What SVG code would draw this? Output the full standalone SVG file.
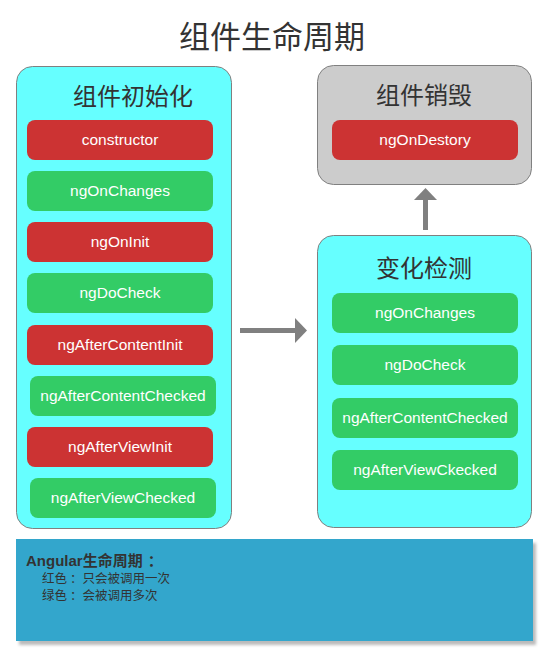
<svg xmlns="http://www.w3.org/2000/svg" width="555" height="666" viewBox="0 0 555 666">
<defs>
<style>
.cont{stroke:#808080;stroke-width:1}
.cyan{fill:#66FFFF}
.gray{fill:#CCCCCC}
.red{fill:#CC3333}
.green{fill:#33CC66}
.bt{font-family:"Liberation Sans",Arial,sans-serif;font-size:15.5px;fill:#FFFFFF;text-anchor:middle}
.ttl{font-family:"Noto Sans CJK SC","Liberation Sans",sans-serif;fill:#333333;text-anchor:middle}
.leg{font-family:"Liberation Sans","Noto Sans CJK SC",sans-serif;fill:#333333}
.conn{stroke:#808080;stroke-width:5;fill:none}
</style>
<filter id="sh" x="-5%" y="-5%" width="110%" height="120%">
<feGaussianBlur stdDeviation="1.5"/>
</filter>
</defs>
<rect width="555" height="666" fill="#FFFFFF"/>
<text class="ttl" x="272" y="48" font-size="31">组件生命周期</text>

<g id="init">
<rect class="cont cyan" x="16.5" y="66.5" width="215" height="462" rx="16"/>
<text class="ttl" x="133" y="105" font-size="24">组件初始化</text>
</g>
<g id="constructor"><rect class="red" x="27" y="120" width="186" height="40" rx="8"/><text class="bt" x="120" y="145">constructor</text></g>
<g id="ngOnChanges1"><rect class="green" x="27" y="171" width="186" height="40" rx="8"/><text class="bt" x="120" y="196">ngOnChanges</text></g>
<g id="ngOnInit"><rect class="red" x="27" y="222" width="186" height="40" rx="8"/><text class="bt" x="120" y="247">ngOnInit</text></g>
<g id="ngDoCheck1"><rect class="green" x="27" y="273" width="186" height="40" rx="8"/><text class="bt" x="120" y="298">ngDoCheck</text></g>
<g id="ngAfterContentInit"><rect class="red" x="27" y="325" width="186" height="40" rx="8"/><text class="bt" x="120" y="350">ngAfterContentInit</text></g>
<g id="ngAfterContentChecked1"><rect class="green" x="30" y="376" width="186" height="40" rx="8"/><text class="bt" x="123" y="401">ngAfterContentChecked</text></g>
<g id="ngAfterViewInit"><rect class="red" x="27" y="427" width="186" height="40" rx="8"/><text class="bt" x="120" y="452">ngAfterViewInit</text></g>
<g id="ngAfterViewChecked"><rect class="green" x="30" y="478" width="186" height="40" rx="8"/><text class="bt" x="123" y="503">ngAfterViewChecked</text></g>

<g id="destroy">
<rect class="cont gray" x="317.5" y="65.5" width="214" height="119" rx="16"/>
<text class="ttl" x="424" y="104" font-size="24">组件销毁</text>
</g>
<g id="ngOnDestory"><rect class="red" x="332" y="120" width="186" height="40" rx="8"/><text class="bt" x="425" y="145">ngOnDestory</text></g>

<g id="detect">
<rect class="cont cyan" x="317.5" y="235.5" width="214" height="292" rx="16"/>
<text class="ttl" x="424" y="277" font-size="24">变化检测</text>
</g>
<g id="ngOnChanges2"><rect class="green" x="332" y="293" width="186" height="40" rx="8"/><text class="bt" x="425" y="318">ngOnChanges</text></g>
<g id="ngDoCheck2"><rect class="green" x="332" y="345" width="186" height="40" rx="8"/><text class="bt" x="425" y="370">ngDoCheck</text></g>
<g id="ngAfterContentChecked2"><rect class="green" x="332" y="398" width="186" height="40" rx="8"/><text class="bt" x="425" y="423">ngAfterContentChecked</text></g>
<g id="ngAfterViewCkecked"><rect class="green" x="332" y="450" width="186" height="40" rx="8"/><text class="bt" x="425" y="475">ngAfterViewCkecked</text></g>

<g id="connectors">
<line class="conn" x1="240" y1="330.5" x2="296" y2="330.5"/>
<polygon points="295,318 307,330.5 295,343" fill="#808080"/>
<line class="conn" x1="425.5" y1="230" x2="425.5" y2="199"/>
<polygon points="414,200 425.5,188 437,200" fill="#808080"/>
</g>

<g id="legend">
<rect x="19" y="543" width="517" height="102" fill="#BBBBBB" filter="url(#sh)"/>
<rect x="16" y="539" width="517" height="102" fill="#33A6CC"/>
<text class="leg" x="26" y="566" font-size="15" font-weight="bold">Angular生命周期<tspan dx="5">：</tspan></text>
<text class="leg" x="42" y="582.5" font-size="12.5">红色<tspan dx="3">：</tspan>只会被调用一次</text>
<text class="leg" x="42" y="599.5" font-size="12.5">绿色<tspan dx="3">：</tspan>会被调用多次</text>
</g>
</svg>
